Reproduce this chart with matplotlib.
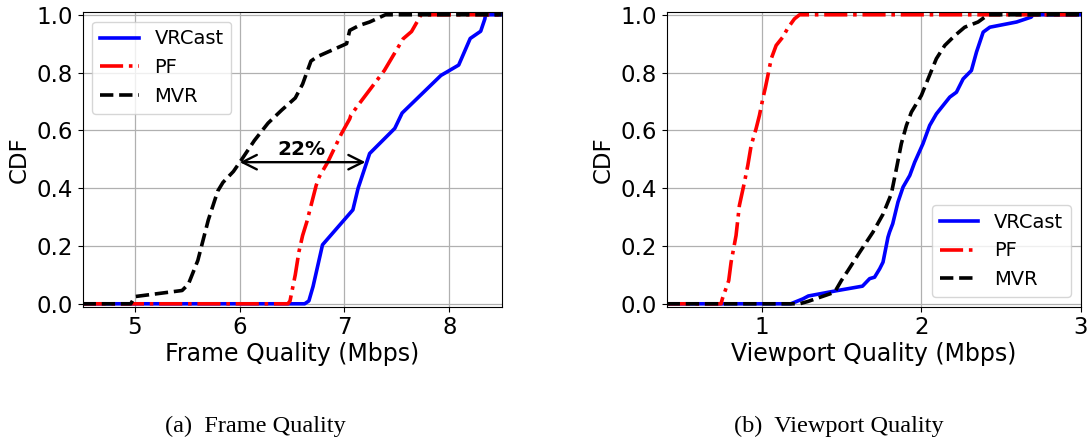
import matplotlib
matplotlib.use('Agg')
import matplotlib.pyplot as plt

# ---- (a) Frame Quality CDFs (Mbps) ----
frame_vrcast_x = [4.5, 6.62, 6.66, 6.70, 6.79, 7.08, 7.13, 7.24, 7.48, 7.55, 7.92, 8.09, 8.20, 8.30, 8.34, 8.345, 8.5]
frame_vrcast_y = [0.0, 0.0, 0.01, 0.06, 0.204, 0.325, 0.40, 0.52, 0.607, 0.66, 0.79, 0.826, 0.918, 0.943, 0.986, 1.0, 1.0]

frame_pf_x = [4.5, 6.46, 6.48, 6.53, 6.565, 6.60, 6.64, 6.73, 6.76, 6.84, 6.97, 7.05, 7.06, 7.14, 7.38, 7.47, 7.56, 7.64, 7.70, 7.73, 8.5]
frame_pf_y = [0.0, 0.0, 0.01, 0.10, 0.18, 0.236, 0.283, 0.41, 0.44, 0.49, 0.588, 0.64, 0.652, 0.692, 0.807, 0.862, 0.917, 0.942, 0.98, 1.0, 1.0]

frame_mvr_x = [4.5, 4.96, 5.0, 5.45, 5.51, 5.60, 5.70, 5.79, 5.84, 5.94, 6.02, 6.14, 6.27, 6.40, 6.53, 6.60, 6.68, 6.74, 7.02, 7.05, 7.14, 7.24, 7.39, 8.5]
frame_mvr_y = [0.0, 0.0, 0.025, 0.046, 0.068, 0.15, 0.29, 0.39, 0.42, 0.458, 0.50, 0.565, 0.625, 0.67, 0.712, 0.76, 0.84, 0.855, 0.90, 0.946, 0.963, 0.975, 1.0, 1.0]

# ---- (b) Viewport Quality CDFs (Mbps) ----
view_vrcast_x = [0.4, 1.18, 1.256, 1.29, 1.465, 1.63, 1.675, 1.706, 1.738, 1.759, 1.79, 1.80, 1.82, 1.853, 1.885,
                 1.927, 1.958, 2.01, 2.052, 2.094, 2.178, 2.22, 2.262, 2.314, 2.346, 2.388, 2.43, 2.598, 2.69, 2.70, 3.0]
view_vrcast_y = [0.0, 0.0, 0.017, 0.027, 0.045, 0.061, 0.087, 0.092, 0.121, 0.144, 0.23, 0.248, 0.277, 0.352, 0.404,
                 0.444, 0.49, 0.554, 0.617, 0.657, 0.715, 0.732, 0.778, 0.807, 0.871, 0.94, 0.957, 0.975, 0.992, 1.0, 1.0]

view_pf_x = [0.4, 0.742, 0.75, 0.79, 0.805, 0.836, 0.857, 0.889, 0.91, 0.931, 0.962, 0.983, 1.004, 1.021, 1.036,
             1.057, 1.088, 1.13, 1.161, 1.203, 1.235, 3.0]
view_pf_y = [0.0, 0.0, 0.017, 0.08, 0.144, 0.236, 0.34, 0.421, 0.479, 0.548, 0.606, 0.652, 0.709, 0.75, 0.79,
             0.848, 0.894, 0.923, 0.954, 0.986, 1.0, 1.0]

view_mvr_x = [0.4, 1.235, 1.287, 1.455, 1.497, 1.539, 1.612, 1.696, 1.759, 1.811, 1.843, 1.874, 1.906, 1.937, 2.0,
              2.042, 2.094, 2.147, 2.21, 2.272, 2.356, 2.419, 3.0]
view_mvr_y = [0.0, 0.0, 0.008, 0.04, 0.08, 0.115, 0.178, 0.248, 0.31, 0.38, 0.467, 0.554, 0.617, 0.663, 0.721,
              0.778, 0.848, 0.894, 0.928, 0.957, 0.975, 1.0, 1.0]

gap_label = '22%'
gap_from, gap_to, gap_level = 6.0, 7.2, 0.49

LW = 2.6


def style_axis(ax, xlabel, xlim, xticks):
    ax.set_xlim(*xlim)
    ax.set_ylim(-0.01, 1.01)
    ax.set_xticks(xticks)
    ax.set_yticks([0.0, 0.2, 0.4, 0.6, 0.8, 1.0])
    ax.set_yticklabels(['0.0', '0.2', '0.4', '0.6', '0.8', '1.0'])
    ax.tick_params(labelsize=16.5)
    ax.set_xlabel(xlabel, fontsize=17, labelpad=2)
    ax.set_ylabel('CDF', fontsize=16.5, labelpad=4)
    ax.grid(True, color='#b0b0b0', linewidth=0.9)


def draw_cdfs(ax, series):
    for (x, y, color, ls, label) in series:
        ax.plot(x, y, color=color, linestyle=ls, linewidth=LW, label=label)


fig = plt.figure(figsize=(10.91, 4.40), dpi=100)
ax1 = fig.add_axes([0.0757, 0.303, 0.3841, 0.670])
ax2 = fig.add_axes([0.611, 0.303, 0.3795, 0.670])

draw_cdfs(ax1, [
    (frame_vrcast_x, frame_vrcast_y, 'blue', '-', 'VRCast'),
    (frame_pf_x, frame_pf_y, 'red', '-.', 'PF'),
    (frame_mvr_x, frame_mvr_y, 'black', '--', 'MVR'),
])
style_axis(ax1, 'Frame Quality (Mbps)', (4.5, 8.5), [5, 6, 7, 8])
ax1.legend(loc='upper left', fontsize=14)
ax1.annotate('', xy=(gap_from, gap_level), xytext=(gap_to, gap_level),
             arrowprops=dict(arrowstyle='<->', color='black', lw=1.7, mutation_scale=26,
                             shrinkA=0, shrinkB=0))
ax1.text((gap_from + gap_to) / 2 - 0.01, gap_level + 0.012, gap_label, ha='center', va='bottom',
         fontsize=14.5, fontweight='bold')

draw_cdfs(ax2, [
    (view_vrcast_x, view_vrcast_y, 'blue', '-', 'VRCast'),
    (view_pf_x, view_pf_y, 'red', '-.', 'PF'),
    (view_mvr_x, view_mvr_y, 'black', '--', 'MVR'),
])
style_axis(ax2, 'Viewport Quality (Mbps)', (0.4, 3.0), [1, 2, 3])
ax2.legend(loc='lower right', fontsize=14)

fig.text(0.2345, 0.019, '(a)  Frame Quality', ha='center', va='baseline',
         family='Liberation Serif', fontsize=17.5)
fig.text(0.769, 0.019, '(b)  Viewport Quality', ha='center', va='baseline',
         family='Liberation Serif', fontsize=17.5)

fig.savefig('out.png', dpi=100)
